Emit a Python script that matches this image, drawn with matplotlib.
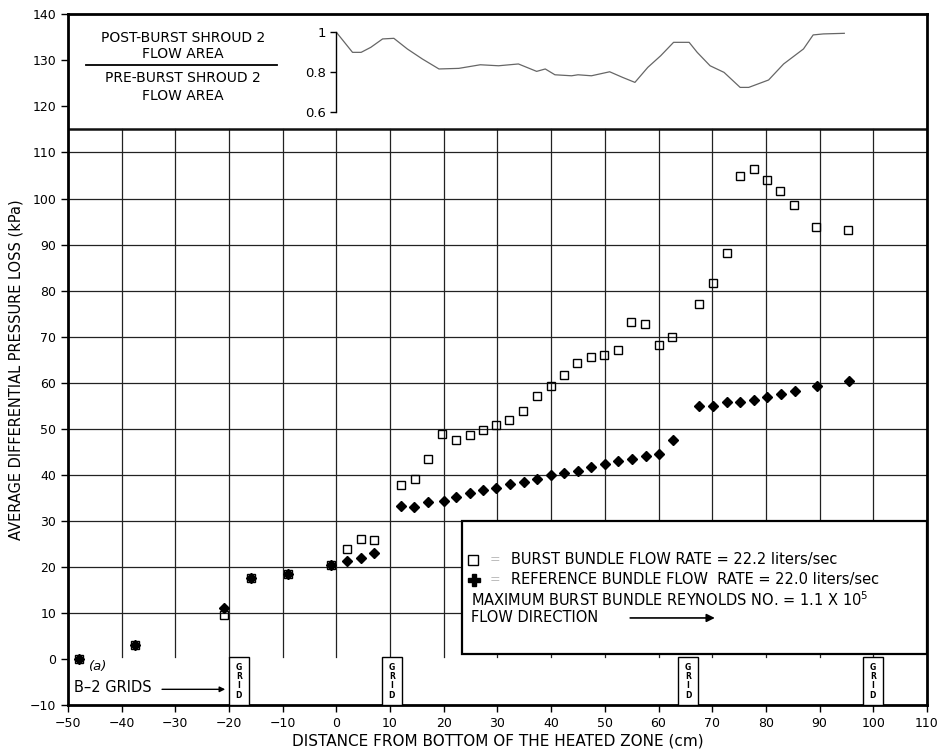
import matplotlib
matplotlib.use("Agg")
import matplotlib.pyplot as plt
from matplotlib.patches import Rectangle

# Burst bundle (open squares)
burst_x = [-48, -37.5, -21, -16, -9, -1, 2, 4.5, 7, 12, 14.6, 17.1, 19.7, 22.2, 24.8,
           27.3, 29.7, 32.2, 34.8, 37.3, 39.9, 42.4, 44.9, 47.4, 49.8, 52.4, 54.9, 57.5,
           60.0, 62.6, 67.5, 70.1, 72.7, 75.1, 77.7, 80.2, 82.7, 85.3, 89.4, 95.3]
burst_y = [0, 3, 9.5, 17.5, 18.5, 20.5, 23.9, 26.1, 25.9, 37.8, 39.1, 43.5, 48.9, 47.6, 48.7,
           49.8, 50.8, 52.0, 53.8, 57.2, 59.3, 61.7, 64.3, 65.5, 66.1, 67.2, 73.1, 72.8,
           68.1, 69.9, 77.0, 81.7, 88.2, 104.9, 106.5, 104.1, 101.7, 98.5, 93.8, 93.1]

# Reference bundle (filled markers)
ref_x = [-48, -37.5, -21, -16, -9, -1, 2, 4.5, 7, 12, 14.5, 17, 20, 22.3, 24.8, 27.3,
         29.8, 32.3, 34.9, 37.4, 40, 42.4, 45, 47.5, 50, 52.5, 55, 57.6, 60.1, 62.7,
         67.6, 70.2, 72.7, 75.2, 77.7, 80.2, 82.8, 85.4, 89.6, 95.5]
ref_y = [0, 3, 11, 17.5, 18.5, 20.5, 21.3, 22.0, 23.0, 33.3, 33.1, 34.0, 34.4, 35.2, 36.0,
         36.7, 37.2, 38.0, 38.5, 39.1, 40.0, 40.4, 40.9, 41.7, 42.4, 42.9, 43.4, 44.0,
         44.5, 47.5, 55.0, 54.9, 55.8, 55.8, 56.3, 56.9, 57.5, 58.3, 59.2, 60.3]

# Post-burst / pre-burst shroud flow area ratio
area_x = [0, 3.0, 4.6, 6.4, 8.6, 10.7, 13.2, 16.0, 19.1, 22.8, 26.8, 30.2, 33.9, 37.3,
          38.9, 40.7, 43.8, 45.0, 47.5, 50.9, 53.3, 55.6, 58.0, 60.4, 62.8, 65.7, 67.2,
          69.6, 72.2, 75.2, 76.8, 80.5, 83.3, 87.0, 88.8, 90.7, 94.6]
area_ratio = [1.0, 0.90, 0.90, 0.925, 0.967, 0.97, 0.917, 0.867, 0.817, 0.82, 0.838,
              0.833, 0.842, 0.805, 0.817, 0.788, 0.783, 0.788, 0.783, 0.803, 0.775, 0.75,
              0.825, 0.883, 0.95, 0.95, 0.90, 0.833, 0.80, 0.725, 0.725, 0.762, 0.842,
              0.917, 0.987, 0.992, 0.995]

grid_spacer_x = [-18.2, 10.3, 65.5, 99.9]
x_ticks = list(range(-50, 111, 10))
y_ticks = list(range(-10, 141, 10))
inset_ticks = [0.6, 0.8, 1.0]
inset_labels = ["0.6", "0.8", "1"]

plt.rcParams["font.family"] = ["DejaVu Sans"]

fig = plt.figure(figsize=(9.43, 7.56), dpi=100)
ax = fig.add_axes([0.0721, 0.0675, 0.9109, 0.9135])
ax.set_xlim(-50, 110)
ax.set_ylim(-10, 140)

# grid of the main field
for gx in range(-40, 101, 10):
    ax.plot([gx, gx], [0.5, 115], color="#222", lw=0.9, zorder=1)
for gy in range(10, 111, 10):
    ax.plot([-50, 110], [gy, gy], color="#222", lw=0.9, zorder=1)
ax.plot([-50, 110], [115, 115], color="#111", lw=1.8, zorder=1)

for s in ax.spines.values():
    s.set_linewidth(2)
ax.set_xticks(x_ticks)
ax.set_yticks(y_ticks)
ax.tick_params(direction="out", length=5, width=1, labelsize=9)

ax.set_xlabel("DISTANCE FROM BOTTOM OF THE HEATED ZONE (cm)", fontsize=11, labelpad=3)
ax.set_ylabel("AVERAGE DIFFERENTIAL PRESSURE LOSS (kPa)", fontsize=10.5)
ax.yaxis.set_label_coords(-0.052, 0.485)

# data
ax.plot(ref_x, ref_y, linestyle="none", marker="D", markersize=5,
        color="black", zorder=5)
ax.plot(burst_x, burst_y, linestyle="none", marker="s", markersize=6.2,
        markerfacecolor="none", markeredgecolor="black", markeredgewidth=1, zorder=6)

# legend panel
LFS = 10.5
ax.add_patch(Rectangle((23.3, 1), 86.7, 29, facecolor="white", edgecolor="black",
                       lw=1.6, zorder=3))
ax.plot([25.5], [21.5], marker="s", markersize=7, markerfacecolor="white",
        markeredgecolor="black", zorder=4)
ax.plot([25.6], [17.2], marker="P", markersize=8, color="black", zorder=4)
ax.text(28.6, 21.5, "=", color="#bbbbbb", fontsize=9, va="center", zorder=4)
ax.text(28.6, 17.2, "=", color="#bbbbbb", fontsize=9, va="center", zorder=4)
ax.text(32.6, 21.5, "BURST BUNDLE FLOW RATE = 22.2 liters/sec", fontsize=LFS,
        va="center", zorder=4)
ax.text(32.6, 17.2, "REFERENCE BUNDLE FLOW  RATE = 22.0 liters/sec", fontsize=LFS,
        va="center", zorder=4)
ax.text(25.1, 12.8, "MAXIMUM BURST BUNDLE REYNOLDS NO. = 1.1 X 10$^{5}$", fontsize=LFS,
        va="center", zorder=4)
ax.text(25.1, 8.9, "FLOW DIRECTION", fontsize=LFS, va="center", zorder=4)
ax.annotate("", xy=(71, 8.9), xytext=(54.2, 8.9), zorder=4,
            arrowprops=dict(arrowstyle="-|>", color="black", lw=1.2, mutation_scale=12))

# spacer grid markers along the bottom
for gx in grid_spacer_x:
    ax.add_patch(Rectangle((gx - 1.85, -10), 3.7, 10.5, facecolor="white",
                           edgecolor="black", lw=1, zorder=3))
    ax.text(gx, -4.8, "G\nR\nI\nD", fontsize=5.5, fontweight="bold", ha="center",
            va="center", linespacing=1.05, zorder=4)
ax.text(-46, -1.7, "(a)", fontsize=9.5, style="italic", va="center")
ax.text(-48.8, -6.3, "B\u20132 GRIDS", fontsize=10.5, va="center")
ax.annotate("", xy=(-20.2, -6.6), xytext=(-33, -6.6),
            arrowprops=dict(arrowstyle="-|>", color="black", lw=1, mutation_scale=8))

# flow area ratio label
TFS = 10
ax.text(-28.6, 134.8, "POST-BURST SHROUD 2", fontsize=TFS, ha="center", va="center")
ax.text(-28.6, 131.3, "FLOW AREA", fontsize=TFS, ha="center", va="center")
ax.plot([-46.6, -11.0], [129.1, 129.1], color="black", lw=1.3)
ax.text(-28.6, 126.1, "PRE-BURST SHROUD 2", fontsize=TFS, ha="center", va="center")
ax.text(-28.6, 122.2, "FLOW AREA", fontsize=TFS, ha="center", va="center")

# flow area ratio curve
axin = ax.inset_axes([-50, 118.7, 160, 17.4], transform=ax.transData)
axin.set_xlim(-50, 110)
axin.set_ylim(0.6, 1.0)
axin.patch.set_alpha(0)
for side in ["top", "right", "bottom"]:
    axin.spines[side].set_visible(False)
axin.spines["left"].set_position(("data", 0))
axin.spines["left"].set_linewidth(1)
axin.set_xticks([])
axin.set_yticks(inset_ticks)
axin.set_yticklabels(inset_labels)
axin.tick_params(axis="y", direction="out", length=4, width=1, labelsize=9.5)
axin.plot(area_x, area_ratio, color="#666666", lw=0.9)

fig.savefig("out.png", dpi=100)
